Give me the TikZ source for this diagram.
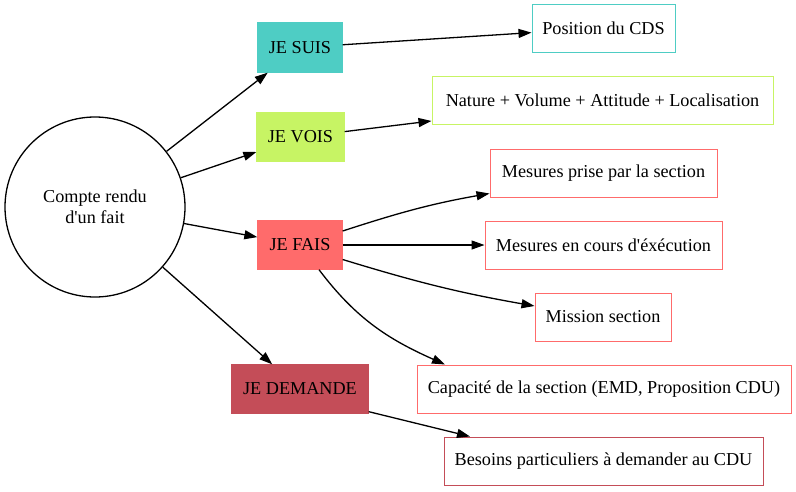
\documentclass[tikz,border=0pt]{standalone}
\usepackage{fontspec}
\setmainfont{Liberation Serif}[Ligatures=TeXOff]
\usetikzlibrary{arrows.meta}
\definecolor{cSuis}{HTML}{4ECDC4}
\definecolor{cVois}{HTML}{C7F464}
\definecolor{cFais}{HTML}{FF6B6B}
\definecolor{cDem}{HTML}{C44D58}
\begin{document}
\begin{tikzpicture}[x=1pt,y=-1pt,
  every node/.style={font=\fontsize{18.2}{20.5}\selectfont, inner sep=0pt},
  catbox/.style={rectangle, minimum height=48pt, line width=1.3pt},
  infobox/.style={rectangle, draw, fill=white, minimum height=48pt, line width=1pt},
  conn/.style={line width=1.3pt, -{Triangle[length=13pt,width=9pt]}}
]
\useasboundingbox (0,0) rectangle (796,491);

\node[circle, draw, line width=1.3pt, minimum size=180pt, align=center] (cr) at (95,207) {Compte rendu\\d'un fait};

\node[catbox, fill=cSuis, draw=cSuis, minimum width=84pt, minimum height=49pt] (suis) at (300,47.5) {JE SUIS};
\node[catbox, fill=cVois, draw=cVois, minimum width=87pt] (vois) at (300.5,137) {JE VOIS};
\node[catbox, fill=cFais, draw=cFais, minimum width=84pt] (fais) at (300,245) {JE FAIS};
\node[catbox, fill=cDem, draw=cDem, minimum width=136pt] (dem) at (300,389) {JE DEMANDE};

\node[infobox, draw=cSuis, minimum width=143pt] (pos) at (603.5,28) {Position du CDS};
\node[infobox, draw=cVois, minimum width=341pt] (nat) at (602.5,100) {Nature + Volume + Attitude + Localisation};
\node[infobox, draw=cFais, minimum width=227pt] (mprise) at (603.5,173) {Mesures prise par la section};
\node[infobox, draw=cFais, minimum width=237pt] (mcours) at (603.5,245) {Mesures en cours d'éxécution};
\node[infobox, draw=cFais, minimum width=136pt] (miss) at (603,317) {Mission section};
\node[infobox, draw=cFais, minimum width=374pt] (cap) at (604,389) {Capacité de la section (EMD, Proposition CDU)};
\node[infobox, draw=cDem, minimum width=319pt] (bes) at (603.5,461) {Besoins particuliers à demander au CDU};

\draw[conn] (cr) -- (suis);
\draw[conn] (cr) -- (vois);
\draw[conn] (cr) -- (fais);
\draw[conn] (cr) -- (dem);

\draw[conn] (suis) -- (pos);
\draw[conn] (vois) -- (nat);

\draw[conn] ([yshift=14pt]fais.east) to[out=18,in=190] ([yshift=4pt]mprise.south west);
\draw[conn] (fais) -- (mcours);
\draw[conn] ([yshift=-14.5pt]fais.east) to[out=-17,in=170] ([yshift=11pt]miss.west);
\draw[conn] ([xshift=19pt]fais.south) to[out=-53,in=156] ([xshift=-159pt]cap.north);

\draw[conn] ([yshift=2pt]dem.south east) -- ([xshift=-133.5pt]bes.north);
\end{tikzpicture}
\end{document}
